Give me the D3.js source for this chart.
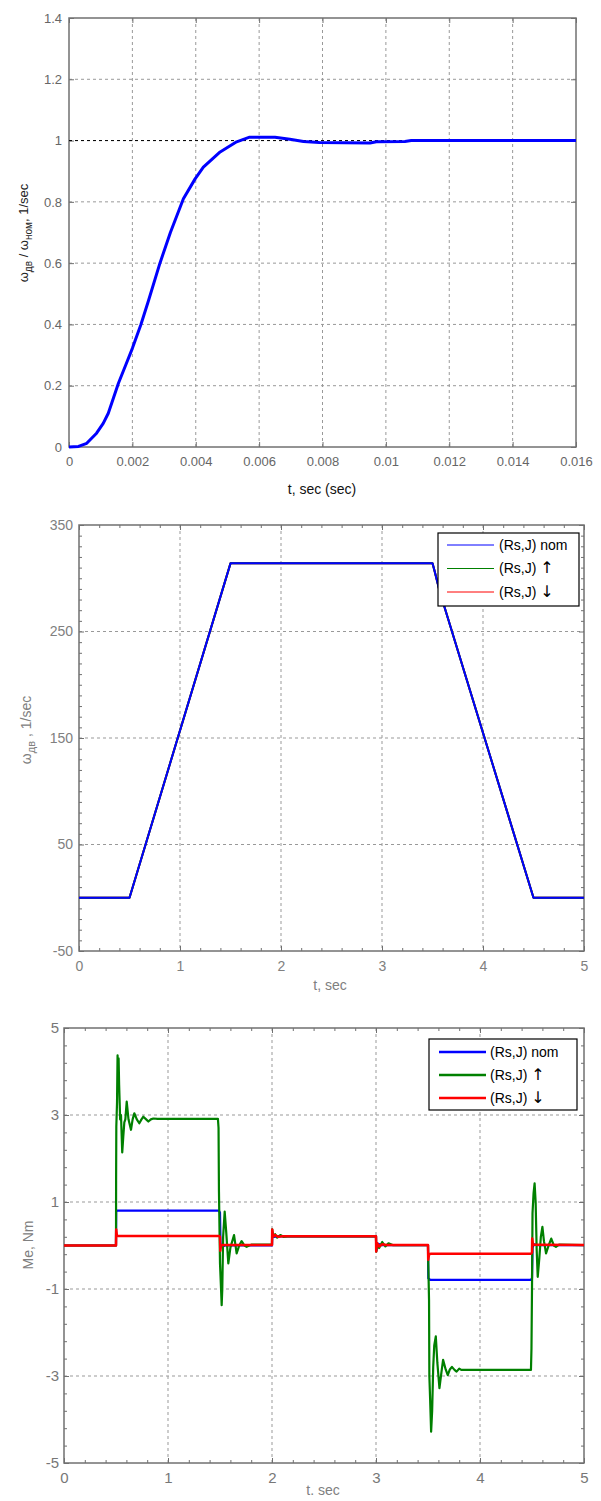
<!DOCTYPE html>
<html>
<head>
<meta charset="utf-8">
<script src="https://cdn.jsdelivr.net/npm/d3@7"></script>
<style>
body { margin: 0; background: #fff; }
text { font-family: "Liberation Sans", Arial, sans-serif; }
</style>
</head>
<body>
<script>
// ---- panel 1: relative speed step response ----
var relT = [0, 0.0003, 0.00056, 0.00087, 0.00108, 0.00124, 0.0014, 0.00156, 0.0018, 0.002,
            0.00227, 0.0025, 0.00287, 0.0032, 0.00361, 0.00398, 0.00424, 0.00477, 0.00529, 0.0057,
            0.0065, 0.00697, 0.0074, 0.0079, 0.0095, 0.0097, 0.0106, 0.0108, 0.016];
var relW = [0, 0.002, 0.012, 0.045, 0.077, 0.11, 0.159, 0.208, 0.27, 0.322,
            0.40, 0.475, 0.60, 0.70, 0.81, 0.875, 0.913, 0.963, 0.996, 1.011,
            1.011, 1.004, 0.997, 0.994, 0.992, 0.996, 0.997, 1.0, 1.0];
var relRef = 1;
var relXTicks = [0, 0.002, 0.004, 0.006, 0.008, 0.01, 0.012, 0.014, 0.016];
var relXLabels = ["0", "0.002", "0.004", "0.006", "0.008", "0.01", "0.012", "0.014", "0.016"];
var relYTicks = [0, 0.2, 0.4, 0.6, 0.8, 1, 1.2, 1.4];
var relYLabels = ["0", "0.2", "0.4", "0.6", "0.8", "1", "1.2", "1.4"];

// ---- panel 2: speed, three parameter sets ----
var spdT = [0, 0.5, 1.5, 3.5, 3.52, 3.57, 4.5, 5];
var spdNom = [0, 0, 314, 314, 307, 288, 0, 0];
var spdUp = [0, 0, 314, 314, 307, 288, 0, 0];
var spdDown = [0, 0, 314, 314, 307, 288, 0, 0];
var spdXTicks = [0, 1, 2, 3, 4, 5];
var spdXLabels = ["0", "1", "2", "3", "4", "5"];
var spdYTicks = [-50, 50, 150, 250, 350];
var spdYLabels = ["-50", "50", "150", "250", "350"];

// ---- panel 3: electromagnetic torque ----
var meNomT = [0, 0.5, 0.502, 0.51, 1.49, 1.5, 1.505, 1.52, 1.55, 2.0, 2.003, 2.02, 2.05, 3.0, 3.003,
              3.02, 3.05, 3.5, 3.503, 3.52, 4.49, 4.5, 4.505, 4.52, 4.55, 5];
var meNomV = [0, 0, 0.78, 0.8, 0.8, 0.76, 0.05, -0.03, 0, 0, 0.3, 0.2, 0.21, 0.21, -0.12,
              0.04, 0.01, 0.01, -0.75, -0.79, -0.79, -0.75, -0.05, 0.03, 0.01, 0.01];
var meUpT = [0, 0.5, 0.501, 0.503, 0.51, 0.515, 0.52, 0.525, 0.53, 0.54, 0.548, 0.56, 0.57, 0.58,
             0.59, 0.603, 0.62, 0.644, 0.66, 0.676, 0.7, 0.724, 0.745, 0.763, 0.79, 0.811, 0.835,
             0.859, 0.9, 1.48, 1.486, 1.49, 1.5, 1.51, 1.516, 1.522, 1.53, 1.545, 1.56, 1.58, 1.6,
             1.635, 1.66, 1.685, 1.708, 1.735, 1.756, 1.8, 2.0, 2.002, 2.01, 2.03, 2.05, 2.08, 2.11,
             2.15, 3.0, 3.002, 3.01, 3.03, 3.06, 3.09, 3.12, 3.16, 3.5, 3.502, 3.51, 3.513, 3.52,
             3.53, 3.54, 3.55, 3.56, 3.575, 3.59, 3.61, 3.63, 3.645, 3.67, 3.69, 3.71, 3.73, 3.755,
             3.775, 3.8, 3.82, 4.49, 4.495, 4.5, 4.505, 4.515, 4.525, 4.535, 4.545, 4.555, 4.57,
             4.585, 4.6, 4.615, 4.635, 4.66, 4.685, 4.71, 4.73, 4.76, 5];
var meUpV = [0, 0, 1.5, 2.73, 3.3, 4.37, 4.0, 4.3, 3.7, 2.9, 3.0, 2.14, 2.5, 2.83,
             2.9, 3.31, 2.9, 2.66, 2.9, 3.04, 2.9, 2.81, 2.9, 2.96, 2.9, 2.85, 2.9,
             2.92, 2.91, 2.91, 2.7, 1.24, -0.41, -1.0, -1.37, -1.0, 0.2, 0.78, 0.3, -0.41, -0.05,
             0.24, -0.18, 0.0, 0.1, 0.0, -0.03, 0.02, 0.02, 0.37, 0.2, 0.26, 0.18, 0.24, 0.2,
             0.21, 0.21, -0.14, 0.05, -0.06, 0.08, -0.02, 0.05, 0.01, 0.01, -0.33, -1.25, -3.0, -3.5,
             -4.28, -3.8, -2.8, -2.3, -2.09, -2.7, -3.28, -2.9, -2.63, -2.85, -2.98, -2.85, -2.79, -2.86,
             -2.9, -2.83, -2.86, -2.86, -2.36, -1.0, 0.74, 1.2, 1.43, 1.0, -0.1, -0.72, -0.3,
             0.2, 0.43, 0.1, -0.18, 0.0, 0.16, 0.0, -0.03, 0.02, 0.01];
var meDownT = [0, 0.5, 0.502, 0.508, 0.52, 1.49, 1.5, 1.503, 1.51, 1.53, 2.0, 2.002, 2.01, 2.03, 2.06,
               2.1, 3.0, 3.002, 3.01, 3.03, 3.06, 3.1, 3.5, 3.502, 3.51, 3.53, 4.49, 4.5, 4.502, 4.51,
               4.53, 5];
var meDownV = [0, 0, 0.37, 0.24, 0.22, 0.22, 0.2, -0.12, 0.0, 0.01, 0.01, 0.37, 0.2, 0.24, 0.2,
               0.21, 0.21, -0.14, 0.06, -0.02, 0.03, 0.01, 0.01, -0.33, -0.2, -0.19, -0.19, -0.16, 0.16, 0.01,
               0.02, 0.01];
var meXTicks = [0, 1, 2, 3, 4, 5];
var meXLabels = ["0", "1", "2", "3", "4", "5"];
var meYTicks = [-5, -3, -1, 1, 3, 5];
var meYLabels = ["-5", "-3", "-1", "1", "3", "5"];

var legendNames = ["(Rs,J) nom", "(Rs,J) ", "(Rs,J) "];
var legendArrows = ["", "\u2191", "\u2193"];
var blue = "#0000ff", green = "#008000", red = "#ff0000";

var svg = d3.select("body").append("svg")
    .attr("width", 601)
    .attr("height", 1501);

function zip(ts, vs) {
    return ts.map(function(t, i) { return [t, vs[i]]; });
}

// draws frame, grid, ticks and labels of one panel; returns scales and group
function panel(o) {
    var w = o.right - o.left, h = o.bottom - o.top;
    var x = d3.scaleLinear().domain(o.xDomain).range([0, w]);
    var y = d3.scaleLinear().domain(o.yDomain).range([h, 0]);
    var g = svg.append("g").attr("transform", "translate(" + o.left + "," + o.top + ")");

    var inner = function(v, d) { return v > d[0] && v < d[1]; };
    g.selectAll(".gx").data(o.xTicks.filter(function(d) { return inner(d, o.xDomain); }))
        .enter().append("line")
        .attr("x1", function(d) { return x(d); }).attr("x2", function(d) { return x(d); })
        .attr("y1", 0).attr("y2", h)
        .attr("stroke", o.gridColor).attr("stroke-dasharray", "3,3");
    g.selectAll(".gy").data(o.yTicks.filter(function(d) { return inner(d, o.yDomain); }))
        .enter().append("line")
        .attr("x1", 0).attr("x2", w)
        .attr("y1", function(d) { return y(d); }).attr("y2", function(d) { return y(d); })
        .attr("stroke", o.gridColor).attr("stroke-dasharray", "3,3");

    // inward ticks on all four sides
    function ticks(axis, vals, size, tr) {
        var a = g.append("g").attr("transform", tr)
            .call(axis.tickValues(vals).tickSize(size).tickFormat(""));
        a.select(".domain").remove();
        a.selectAll("line").attr("stroke", o.axisColor);
    }
    var makers = [
        [function() { return d3.axisBottom(x); }, o.xTicks, o.xMinor, "translate(0," + h + ")"],
        [function() { return d3.axisTop(x); }, o.xTicks, o.xMinor, "translate(0,0)"],
        [function() { return d3.axisLeft(y); }, o.yTicks, o.yMinor, "translate(0,0)"],
        [function() { return d3.axisRight(y); }, o.yTicks, o.yMinor, "translate(" + w + ",0)"]
    ];
    makers.forEach(function(m) {
        ticks(m[0](), m[1], -5, m[3]);
        if (m[2]) ticks(m[0](), m[2], -3, m[3]);
    });

    // tick labels
    var xa = g.append("g").attr("transform", "translate(0," + h + ")")
        .call(d3.axisBottom(x).tickValues(o.xTicks).tickSize(0).tickPadding(o.xPad)
            .tickFormat(function(d, i) { return o.xLabels[i]; }));
    var ya = g.append("g")
        .call(d3.axisLeft(y).tickValues(o.yTicks).tickSize(0).tickPadding(o.yPad)
            .tickFormat(function(d, i) { return o.yLabels[i]; }));
    [xa, ya].forEach(function(a) {
        a.select(".domain").remove();
        a.attr("font-family", null).attr("font-size", null);
        a.selectAll("text").attr("fill", o.labelColor).style("font-size", o.fontSize + "px");
    });

    g.append("rect").attr("width", w).attr("height", h)
        .attr("fill", "none").attr("stroke", o.axisColor).attr("stroke-width", 1.5);

    return { g: g, x: x, y: y };
}

function drawLine(p, data, color, width) {
    var line = d3.line()
        .x(function(d) { return p.x(d[0]); })
        .y(function(d) { return p.y(d[1]); });
    p.g.append("path").datum(data)
        .attr("fill", "none").attr("stroke", color)
        .attr("stroke-width", width).attr("stroke-linejoin", "round")
        .attr("d", line);
}

function legend(box, colors, width) {
    var lg = svg.append("g");
    lg.append("rect").attr("x", box.x).attr("y", box.y)
        .attr("width", box.w).attr("height", box.h)
        .attr("fill", "#fff").attr("stroke", "#000").attr("stroke-width", 1.2);
    legendNames.forEach(function(name, i) {
        var yy = box.y + box.first + i * box.step;
        lg.append("line").attr("x1", box.x + box.l1).attr("x2", box.x + box.l2)
            .attr("y1", yy).attr("y2", yy)
            .attr("stroke", colors[i]).attr("stroke-width", width);
        var t = lg.append("text").attr("x", box.x + box.tx).attr("y", yy).attr("dy", "0.35em")
            .style("font-size", "14px").attr("fill", "#000");
        t.append("tspan").text(name);
        if (legendArrows[i]) {
            t.append("tspan").style("font-family", "'DejaVu Sans'").style("font-size", "16px")
                .text(legendArrows[i]);
        }
    });
}

// ---------------- panel 1 ----------------
var p1 = panel({
    left: 69, right: 576, top: 18, bottom: 447,
    xDomain: [0, 0.016], yDomain: [0, 1.4],
    xTicks: relXTicks, xLabels: relXLabels, yTicks: relYTicks, yLabels: relYLabels,
    gridColor: "#999", axisColor: "#707070", labelColor: "#666",
    fontSize: 13, xPad: 10, yPad: 7
});
p1.g.append("line")
    .attr("x1", 0).attr("x2", p1.x(0.016))
    .attr("y1", p1.y(relRef)).attr("y2", p1.y(relRef))
    .attr("stroke", "#000").attr("stroke-dasharray", "3,3");
drawLine(p1, zip(relT, relW), blue, 3);

var t1 = svg.append("text").attr("transform", "translate(28,233) rotate(-90)")
    .attr("text-anchor", "middle").style("font-size", "13px").attr("fill", "#222");
t1.append("tspan").text("\u03c9");
t1.append("tspan").attr("dy", 4).style("font-size", "10px").text("\u0434\u0432");
t1.append("tspan").attr("dy", -4).text(" / \u03c9");
t1.append("tspan").attr("dy", 4).style("font-size", "10px").text("\u043d\u043e\u043c");
t1.append("tspan").attr("dy", -4).text(", 1/sec");
svg.append("text").attr("x", 322).attr("y", 494).attr("text-anchor", "middle")
    .style("font-size", "14px").attr("fill", "#111").text("t, sec (sec)");

// ---------------- panel 2 ----------------
var p2 = panel({
    left: 79, right: 584, top: 525, bottom: 951,
    xDomain: [0, 5], yDomain: [-50, 350],
    xTicks: spdXTicks, xLabels: spdXLabels, yTicks: spdYTicks, yLabels: spdYLabels,
    xMinor: d3.range(0.2, 5, 0.2).filter(function(d) { return Math.abs(d - Math.round(d)) > 1e-6; }),
    yMinor: d3.range(-40, 350, 10).filter(function(d) { return (d + 50) % 100 !== 0; }),
    gridColor: "#999", axisColor: "#707070", labelColor: "#808080",
    fontSize: 14, xPad: 10, yPad: 6
});
drawLine(p2, zip(spdT, spdDown), red, 2);
drawLine(p2, zip(spdT, spdUp), green, 2);
drawLine(p2, zip(spdT, spdNom), blue, 2);
legend({ x: 438, y: 533, w: 141, h: 73, first: 12, step: 23.5, l1: 9, l2: 56, tx: 61 },
       [blue, green, red], 1);

var t2 = svg.append("text").attr("transform", "translate(31,730) rotate(-90)")
    .attr("text-anchor", "middle").style("font-size", "14px").attr("fill", "#808080");
t2.append("tspan").text("\u03c9");
t2.append("tspan").attr("dy", 4).style("font-size", "11px").text("\u0434\u0432");
t2.append("tspan").attr("dy", -4).text(" ,  1/sec");
svg.append("text").attr("x", 330).attr("y", 990).attr("text-anchor", "middle")
    .style("font-size", "14px").attr("fill", "#808080").text("t, sec");

// ---------------- panel 3 ----------------
var p3 = panel({
    left: 64, right: 584, top: 1028, bottom: 1463,
    xDomain: [0, 5], yDomain: [-5, 5],
    xTicks: meXTicks, xLabels: meXLabels, yTicks: meYTicks, yLabels: meYLabels,
    xMinor: d3.range(0.2, 5, 0.2).filter(function(d) { return Math.abs(d - Math.round(d)) > 1e-6; }),
    yMinor: d3.range(-4.6, 5, 0.4).filter(function(d) { return Math.abs(((d + 5) / 2) - Math.round((d + 5) / 2)) > 1e-6; }),
    gridColor: "#999", axisColor: "#707070", labelColor: "#777",
    fontSize: 15, xPad: 9, yPad: 5
});
drawLine(p3, zip(meNomT, meNomV), blue, 2.2);
drawLine(p3, zip(meUpT, meUpV), green, 2.2);
drawLine(p3, zip(meDownT, meDownV), red, 2.5);
legend({ x: 429, y: 1039, w: 148, h: 71, first: 13, step: 23, l1: 10, l2: 57, tx: 61 },
       [blue, green, red], 2.5);

svg.append("text").attr("transform", "translate(33,1245) rotate(-90)")
    .attr("text-anchor", "middle").style("font-size", "14px").attr("fill", "#808080").text("Me, Nm");
svg.append("text").attr("x", 323).attr("y", 1495).attr("text-anchor", "middle")
    .style("font-size", "14px").attr("fill", "#808080").text("t. sec");
</script>
</body>
</html>
